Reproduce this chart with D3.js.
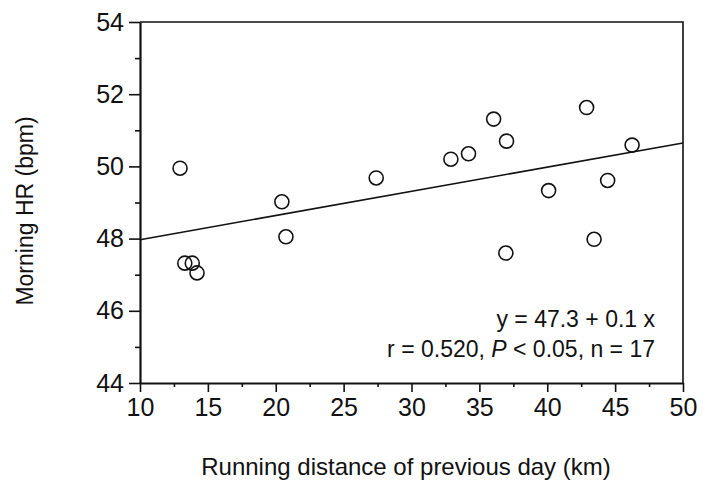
<!DOCTYPE html>
<html>
<head>
<meta charset="utf-8">
<script src="https://cdn.jsdelivr.net/npm/d3@7/dist/d3.min.js"></script>
<style>
  html, body { margin: 0; padding: 0; background: #fff; }
  svg text { font-family: "Liberation Sans", Arial, Helvetica, sans-serif; fill: #111; }
</style>
</head>
<body>
<svg id="chart" width="703" height="497"></svg>
<script>
// Running distance of previous day (km) vs morning heart rate (bpm)
const distanceKm = [12.95, 13.3, 13.85, 14.2, 20.45, 20.75, 27.4, 32.9, 34.2, 36.05, 37.0, 36.95, 40.1, 42.9, 43.45, 44.45, 46.25];
const morningHR  = [49.95, 47.32, 47.32, 47.05, 49.02, 48.05, 49.68, 50.2, 50.35, 51.31, 50.7, 47.6, 49.33, 51.63, 47.98, 49.61, 50.59];

// Fitted regression line: y = intercept + slope * x
const fitIntercept = 47.3;
const fitSlope = 0.067;

const xTicks = [10, 15, 20, 25, 30, 35, 40, 45, 50];
const xMinorTicks = [12.5, 17.5, 22.5, 27.5, 32.5, 37.5, 42.5, 47.5];
const yTicks = [44, 46, 48, 50, 52, 54];
const yMinorTicks = [45, 47, 49, 51, 53];

const statLines = ["y = 47.3 + 0.1 x", "r = 0.520, P < 0.05, n = 17"];

const svg = d3.select("#chart");
const margin = { left: 140, right: 20, top: 22, bottom: 114 };
const W = 703, H = 497;
const x0 = margin.left, x1 = W - margin.right;
const y0 = margin.top, y1 = H - margin.bottom;

const x = d3.scaleLinear().domain([10, 50]).range([x0, x1]);
const y = d3.scaleLinear().domain([44, 54]).range([y1, y0]);

// frame: top and right edges
svg.append("path")
  .attr("d", `M${x0},${y0}H${x1}V${y1}`)
  .attr("fill", "none").attr("stroke", "#111").attr("stroke-width", 1.6);

// x axis
const gx = svg.append("g").attr("transform", `translate(0,${y1})`);
gx.call(d3.axisBottom(x).tickValues(xMinorTicks).tickSize(4).tickFormat(""))
  .call(g => g.select(".domain").remove());
gx.append("g").call(d3.axisBottom(x).tickValues(xTicks).tickSize(9).tickSizeOuter(0).tickPadding(6).tickFormat(d3.format("d")));
gx.selectAll("path.domain").attr("stroke-width", 2.2).attr("stroke", "#111");
gx.selectAll("line").attr("stroke", "#111").attr("stroke-width", 1.6);
gx.selectAll("text").attr("font-size", 25).attr("font-family", null).attr("fill", "#111");

// y axis
const gy = svg.append("g").attr("transform", `translate(${x0},0)`);
gy.call(d3.axisLeft(y).tickValues(yMinorTicks).tickSize(5).tickFormat(""))
  .call(g => g.select(".domain").remove());
gy.append("g").call(d3.axisLeft(y).tickValues(yTicks).tickSize(11).tickSizeOuter(0).tickPadding(5).tickFormat(d3.format("d")));
gy.selectAll("path.domain").attr("stroke-width", 2.2).attr("stroke", "#111");
gy.selectAll("line").attr("stroke", "#111").attr("stroke-width", 1.6);
gy.selectAll("text").attr("font-size", 25).attr("font-family", null).attr("fill", "#111");

// regression line
svg.append("line")
  .attr("x1", x(10)).attr("y1", y(fitIntercept + fitSlope * 10))
  .attr("x2", x(50)).attr("y2", y(fitIntercept + fitSlope * 50))
  .attr("stroke", "#111").attr("stroke-width", 1.6);

// data points
svg.append("g").selectAll("circle")
  .data(distanceKm.map((d, i) => [d, morningHR[i]]))
  .join("circle")
  .attr("cx", d => x(d[0]))
  .attr("cy", d => y(d[1]))
  .attr("r", 7)
  .attr("fill", "none")
  .attr("stroke", "#111")
  .attr("stroke-width", 1.6);

// statistics
const stats = svg.append("text").attr("text-anchor", "end").attr("font-size", 23);
stats.append("tspan").attr("x", x1 - 28).attr("y", 327).text(statLines[0]);
const t2 = stats.append("tspan").attr("x", x1 - 28).attr("y", 357);
t2.append("tspan").text("r = 0.520, ");
t2.append("tspan").attr("font-style", "italic").text("P");
t2.append("tspan").text(" < 0.05, n = 17");

// axis titles
svg.append("text")
  .attr("x", 406).attr("y", 475)
  .attr("text-anchor", "middle").attr("font-size", 24)
  .text("Running distance of previous day (km)");

svg.append("text")
  .attr("transform", `translate(33,211) rotate(-90)`)
  .attr("text-anchor", "middle").attr("font-size", 23)
  .text("Morning HR (bpm)");
</script>
</body>
</html>
